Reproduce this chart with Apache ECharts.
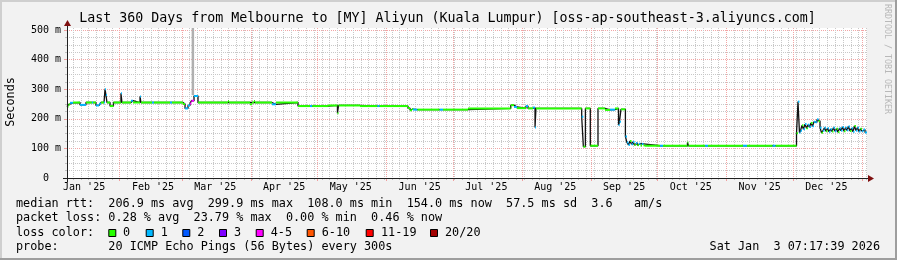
<!DOCTYPE html>
<html><head><meta charset="utf-8">
<script src="https://cdn.jsdelivr.net/npm/echarts@6/dist/echarts.min.js"></script>
<style>html,body{margin:0;padding:0;background:#f2f2f2}#c{width:897px;height:260px}</style>
</head><body><div id="c"></div><script>
// ---- data ----
const rangeStart = '2025-01-08 07:17';
const rangeEnd = '2026-01-03 07:17';

const medianTimes = [
 '2025-01-08 07:17','2025-01-08 23:00','2025-01-09 16:00','2025-01-11 00:00','2025-01-14 04:00','2025-01-16 20:00',
 '2025-01-19 13:00','2025-01-20 00:00','2025-01-21 08:00','2025-01-22 17:00','2025-01-23 14:00','2025-01-24 23:00',
 '2025-01-25 10:00','2025-01-25 20:00','2025-01-26 07:00','2025-01-27 16:00','2025-01-29 05:00','2025-02-01 14:00',
 '2025-02-02 01:00','2025-02-06 02:00','2025-02-07 00:00','2025-02-10 04:00','2025-02-10 14:00','2025-02-15 13:00',
 '2025-02-16 11:00','2025-02-23 16:00','2025-02-24 13:00','2025-03-01 12:00','2025-03-02 10:00','2025-03-03 18:00',
 '2025-03-04 16:00','2025-03-05 07:00','2025-03-06 11:00','2025-03-08 06:00','2025-03-21 18:00','2025-03-22 05:00',
 '2025-03-31 16:00','2025-04-01 13:00','2025-04-02 11:00','2025-04-02 22:00','2025-04-10 13:00','2025-04-12 08:00',
 '2025-04-22 06:00','2025-04-27 16:00','2025-04-28 16:00','2025-05-05 18:00','2025-05-10 00:00','2025-05-10 12:00',
 '2025-05-20 04:00','2025-05-28 00:00','2025-05-29 00:00','2025-06-10 18:00','2025-06-11 16:00','2025-06-12 13:00',
 '2025-06-13 00:00','2025-06-15 00:00','2025-06-25 00:00','2025-06-26 12:00','2025-07-07 18:00','2025-07-27 00:00',
 '2025-07-28 11:00','2025-07-29 19:00','2025-08-02 20:00','2025-08-03 18:00','2025-08-06 00:00','2025-08-06 22:00',
 '2025-08-07 08:00','2025-08-27 22:00','2025-08-28 16:00','2025-08-29 14:00','2025-08-31 19:00','2025-09-04 06:00',
 '2025-09-07 10:00','2025-09-09 16:00','2025-09-11 22:00','2025-09-13 12:00','2025-09-13 22:00','2025-09-14 14:00',
 '2025-09-16 14:00','2025-09-17 07:00','2025-09-17 23:00','2025-09-18 16:00','2025-09-19 08:00','2025-09-20 00:00',
 '2025-09-20 16:00','2025-09-21 08:00','2025-09-22 00:00','2025-09-22 17:00','2025-09-23 09:00','2025-09-24 01:00',
 '2025-09-24 17:00','2025-09-25 10:00','2025-10-02 04:00','2025-10-03 12:00','2025-10-14 12:00','2025-10-14 23:00',
 '2025-10-22 10:00','2025-10-23 18:00','2025-11-08 12:00','2025-11-10 07:00','2025-11-21 20:00','2025-11-23 05:00',
 '2025-12-02 14:00','2025-12-03 06:00','2025-12-03 22:00','2025-12-04 09:00','2025-12-05 01:00','2025-12-05 17:00',
 '2025-12-06 10:00','2025-12-07 02:00','2025-12-07 18:00','2025-12-08 10:00','2025-12-09 02:00','2025-12-09 19:00',
 '2025-12-10 11:00','2025-12-11 03:00','2025-12-11 19:00','2025-12-12 12:00','2025-12-13 04:00','2025-12-13 20:00',
 '2025-12-14 12:00','2025-12-15 04:00','2025-12-15 20:00','2025-12-16 13:00','2025-12-17 05:00','2025-12-17 21:00',
 '2025-12-18 13:00','2025-12-19 05:00','2025-12-19 22:00','2025-12-20 14:00','2025-12-21 06:00','2025-12-21 22:00',
 '2025-12-22 14:00','2025-12-23 07:00','2025-12-23 23:00','2025-12-24 15:00','2025-12-25 07:00','2025-12-25 23:00',
 '2025-12-26 16:00','2025-12-27 08:00','2025-12-28 00:00','2025-12-28 16:00','2025-12-29 08:00','2025-12-30 01:00',
 '2025-12-30 17:00','2025-12-31 09:00','2026-01-01 01:00','2026-01-01 17:00','2026-01-02 10:00'
];
const medianMs = [
 241,248,254,255,247,255, 255,255,245,251,255,255, 300,280,255,243,255,286,
 255,261,255,275,255,255, 255,255,255,250,235,245, 252,261,277,255,260,255,
 249,255,260,255,249,255, 243,243,243,245,219,245, 243,243,243,236,229,233,
 231,231,231,231,235,246, 240,236,243,235,238,171, 235,207,106,235,109,235,
 230,231,235,179,190,232, 140,120,112,125,114,122, 112,118,111,116,110,115,
 110,109,109,109,120,109, 109,109,109,109,109,109, 151,258,153,160,178,165,
 182,168,180,172,186,175, 190,188,198,192,170,153, 160,170,158,168,156,165,
 157,170,158,166,155,168, 160,172,158,170,161,174, 159,168,156,176,160,170,
 157,166,158,164,154
];
// loss colour index per segment (0 = 0/20, 1 = 1/20, 4 = 4-5/20)
const medianLoss = [
 0,0,1,0,1,0, 1,0,1,1,0,1, 1,1,0,0,0,1,
 0,1,0,1,0,1, 0,1,0,0,1,1, 4,4,1,0,0,0,
 0,0,0,0,1,0, 0,1,0,0,0,0, 0,1,0,0,0,0,
 1,0,1,0,0,0, 1,0,1,0,1,1, 0,1,0,0,0,0,
 0,1,0,1,1,0, 1,1,1,0,1,1, 0,1,0,1,0,1,
 0,0,1,0,0,0, 1,0,1,0,1,0, 0,1,1,1,0,1,
 1,0,1,1,0,1, 1,1,1,0,1,0, 1,1,0,1,1,1,
 0,1,1,0,0,1, 1,1,0,1,1,1, 0,1,1,0,1,1,
 1,0,1,1,1
];
const smokeTimes = ['2025-03-05 20:00'];
const smokeLowMs = [280];
const smokeHighMs = [520];

const monthStarts = ['2025-02-01 00:00','2025-03-01 00:00','2025-04-01 00:00','2025-05-01 00:00','2025-06-01 00:00','2025-07-01 00:00',
 '2025-08-01 00:00','2025-09-01 00:00','2025-10-01 00:00','2025-11-01 00:00','2025-12-01 00:00','2026-01-01 00:00'];
const monthLabelAt = ['2025-01-16 00:00','2025-02-16 00:00','2025-03-16 00:00','2025-04-16 00:00','2025-05-16 00:00','2025-06-16 00:00',
 '2025-07-16 00:00','2025-08-16 00:00','2025-09-16 00:00','2025-10-16 00:00','2025-11-16 00:00','2025-12-16 00:00'];
const monthLabelText = ["Jan '25","Feb '25","Mar '25","Apr '25","May '25","Jun '25","Jul '25","Aug '25","Sep '25","Oct '25","Nov '25","Dec '25"];
const yMajorTicks = [0,100,200,300,400,500];
const yMinorTicks = [25,50,75,125,150,175,225,250,275,325,350,375,425,450,475];
const yMax = 506.7;

const lossLabels = ['0','1','2','3','4-5','6-10','11-19','20/20'];
const lossColors = ['#26ff00','#00b8ff','#0059ff','#7e00ff','#ff00ff','#ff5500','#ff0000','#a10000'];

const titleText = 'Last 360 Days from Melbourne to [MY] Aliyun (Kuala Lumpur) [oss-ap-southeast-3.aliyuncs.com]';
const legendRows = [
 'median rtt:  206.9 ms avg  299.9 ms max  108.0 ms min  154.0 ms now  57.5 ms sd  3.6   am/s',
 'packet loss: 0.28 % avg  23.79 % max  0.00 % min  0.46 % now',
 'loss color:',
 'probe:       20 ICMP Echo Pings (56 Bytes) every 300s'
];
const stampText = 'Sat Jan  3 07:17:39 2026';

// ---- helpers ----
const ts = s => new Date(s.replace(' ', 'T')).getTime();
const T0 = ts(rangeStart), T1 = ts(rangeEnd);
const minorX = [];
for (let t = ts('2025-02-01 00:00') - 84 * 3600e3 * 7; t < T1; t += 84 * 3600e3) if (t > T0) minorX.push(t);
const monthStartTs = monthStarts.map(ts);
const monthLabelTs = monthLabelAt.map(ts);

const segData = medianTimes.map((t, i) => [ts(t), i + 1 < medianTimes.length ? ts(medianTimes[i + 1]) : T1, medianMs[i], medianLoss[i]]);
const stepData = medianTimes.map((t, i) => [ts(t), medianMs[i]]).concat([[T1, medianMs[medianMs.length - 1]]]);
const smokeData = smokeTimes.map((t, i) => [ts(t), smokeLowMs[i], smokeHighMs[i]]);

const MONO = '"DejaVu Sans Mono", monospace';
const font = s => s + 'px ' + MONO;
const rowY = [204, 218.3, 232.5, 246.7];
const boxX = [108.3, 145.7, 182.3, 219, 255.7, 306.7, 365.7, 430];
const boxLabelX = [123, 160.7, 197.3, 234, 270.7, 321.7, 381, 445];

const graphics = [
 {type:'rect', shape:{x:0,y:0,width:897,height:2}, style:{fill:'#cfcfcf'}, z:-1},
 {type:'rect', shape:{x:0,y:0,width:2,height:260}, style:{fill:'#cfcfcf'}, z:-1},
 {type:'rect', shape:{x:0,y:258,width:897,height:2}, style:{fill:'#9e9e9e'}, z:-1},
 {type:'rect', shape:{x:895,y:0,width:2,height:260}, style:{fill:'#9e9e9e'}, z:-1},
 {type:'text', x:447.5, y:19, style:{text:titleText, font:font(13.3), fill:'#000', align:'center', verticalAlign:'middle'}},
 {type:'text', x:10.5, y:102, rotation:Math.PI/2, style:{text:'Seconds', font:font(11.8), fill:'#000', align:'center', verticalAlign:'middle'}},
 {type:'text', x:887, y:59, rotation:-Math.PI/2, style:{text:'RRDTOOL / TOBI OETIKER', font:font(8.3), fill:'#b8b8b8', align:'center', verticalAlign:'middle'}},
 {type:'text', x:880, y:rowY[3], style:{text:stampText, font:font(11.8), fill:'#000', align:'right', verticalAlign:'middle'}},
 {type:'line', shape:{x1:63,y1:178.5,x2:869,y2:178.5}, style:{stroke:'#202020', lineWidth:1}, z:50},
 {type:'line', shape:{x1:67.5,y1:182,x2:67.5,y2:25}, style:{stroke:'#202020', lineWidth:1}, z:50},
 {type:'polygon', shape:{points:[[868,175],[874,178.5],[868,182]]}, style:{fill:'#7f1010'}, z:51},
 {type:'polygon', shape:{points:[[64,26],[67.5,20],[71,26]]}, style:{fill:'#7f1010'}, z:51}
];
legendRows.forEach((r, i) => graphics.push({type:'text', x:16, y:rowY[i], style:{text:r, font:font(11.8), fill:'#000', align:'left', verticalAlign:'middle'}}));
lossLabels.forEach((l, i) => {
  graphics.push({type:'rect', shape:{x:boxX[i]+0.5, y:229.5, width:7, height:7}, style:{fill:lossColors[i], stroke:'#000', lineWidth:1}});
  graphics.push({type:'text', x:boxLabelX[i], y:rowY[2], style:{text:l, font:font(11.8), fill:'#000', align:'left', verticalAlign:'middle'}});
});

const chart = echarts.init(document.getElementById('c'), null, {renderer:'canvas'});
chart.setOption({
  animation:false,
  backgroundColor:'#f2f2f2',
  grid:{left:67, top:28, width:800, height:150, show:true, backgroundColor:'#ffffff', borderWidth:0},
  xAxis:[
    {type:'value', position:'bottom', min:T0, max:T1, axisLine:{show:false}, axisLabel:{show:false},
     axisTick:{show:true, customValues:minorX, length:2, lineStyle:{color:'#c0c0c0'}},
     splitLine:{show:true, lineStyle:{color:'#c8c8c8', width:1, type:[1,1]}}},
    {type:'value', position:'bottom', offset:0, min:T0, max:T1, axisLine:{show:false},
     axisTick:{show:true, customValues:monthStartTs, length:3, lineStyle:{color:'#f0a0a0'}},
     axisLabel:{customValues:monthLabelTs, margin:4, fontFamily:'DejaVu Sans Mono', fontSize:10, color:'#000',
       formatter:(v)=>{const i = monthLabelTs.indexOf(v); return i>=0 ? monthLabelText[i] : '';}},
     splitLine:{show:true, lineStyle:{color:'#f2a6a6', width:1, type:[1,1]}}}
  ],
  yAxis:[
    {type:'value', position:'left', min:0, max:yMax, axisLine:{show:false}, axisLabel:{show:false},
     axisTick:{show:true, customValues:yMinorTicks, length:2, lineStyle:{color:'#c0c0c0'}},
     splitLine:{show:true, lineStyle:{color:'#c8c8c8', width:1, type:[1,1]}}},
    {type:'value', position:'left', offset:0, min:0, max:yMax, axisLine:{show:false},
     axisTick:{show:true, customValues:yMajorTicks, length:3, lineStyle:{color:'#f0a0a0'}},
     axisLabel:{customValues:yMajorTicks, margin:6, fontFamily:'DejaVu Sans Mono', fontSize:10, color:'#000',
       formatter:(v)=> v===0 ? '0  ' : v + ' m'},
     splitLine:{show:true, lineStyle:{color:'#f2a6a6', width:1, type:[1,1]}}}
  ],
  series:[
    {type:'custom', xAxisIndex:1, yAxisIndex:1, clip:true, z:1, data:smokeData, encode:{x:0, y:[1,2]},
     renderItem:(p, api)=>{const a = api.coord([api.value(0), api.value(1)]); const b = api.coord([api.value(0), api.value(2)]);
       return {type:'rect', shape:{x:a[0]-1, y:b[1], width:2.5, height:a[1]-b[1]}, style:{fill:'#b0b0b0'}};}},
    {type:'line', xAxisIndex:1, yAxisIndex:1, step:'end', data:stepData, symbol:'none', clip:true, z:2,
     lineStyle:{color:'#111', width:1.3}},
    {type:'custom', xAxisIndex:1, yAxisIndex:1, clip:true, z:3, data:segData, encode:{x:[0,1], y:2},
     renderItem:(p, api)=>{const a = api.coord([api.value(0), api.value(2)]); const b = api.coord([api.value(1), api.value(2)]);
       return {type:'rect', shape:{x:a[0], y:a[1]-1, width:Math.max(b[0]-a[0], 1), height:2}, style:{fill:lossColors[api.value(3)]}};}}
  ],
  graphic:graphics
});
</script></body></html>
